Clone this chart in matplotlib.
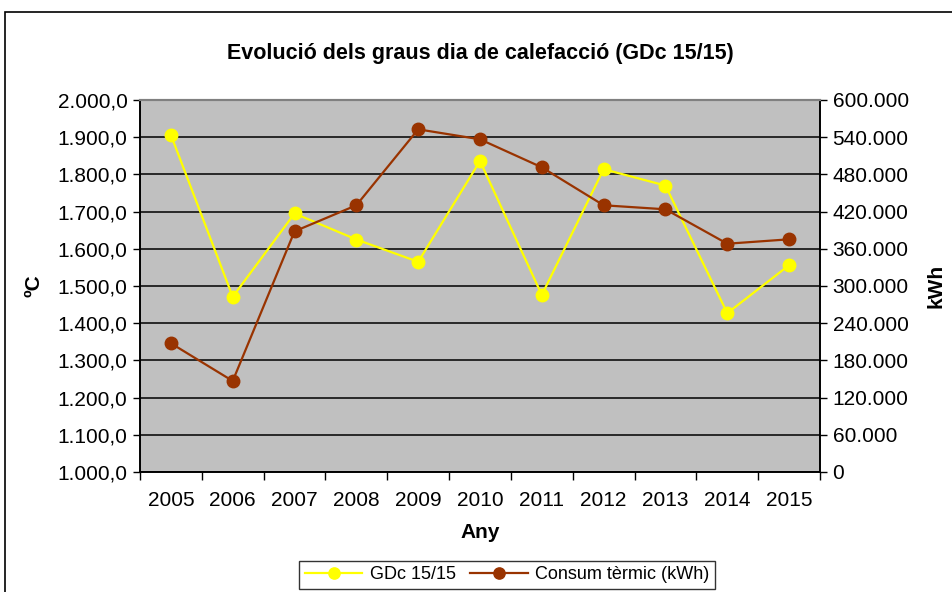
import matplotlib
matplotlib.use("Agg")
import matplotlib.pyplot as plt
from matplotlib.ticker import FuncFormatter, MultipleLocator
from matplotlib.patches import Rectangle

plt.rcParams['font.family'] = ['Liberation Sans', 'DejaVu Sans']

# data
years = ["2005", "2006", "2007", "2008", "2009", "2010",
         "2011", "2012", "2013", "2014", "2015"]
gdc = [1906, 1471, 1695, 1625, 1565, 1836, 1476, 1814, 1770, 1427, 1556]
consum = [207600, 146800, 388200, 430200, 552700, 536600,
          491400, 430200, 423700, 368200, 375300]


def fmt_left(v, pos):
    s = f"{v:,.1f}"
    return s.replace(",", "X").replace(".", ",").replace("X", ".")


def fmt_right(v, pos):
    return f"{v:,.0f}".replace(",", ".")


fig = plt.figure(figsize=(9.53, 5.92), dpi=100)
ax = fig.add_axes([140 / 953, 1 - 472 / 592, 680 / 953, 372 / 592])
ax2 = ax.twinx()

x = list(range(len(years)))
ax.set_facecolor("#C0C0C0")
ax.set_xlim(-0.5, len(years) - 0.5)
ax.set_ylim(1000, 2000)
ax.yaxis.set_major_locator(MultipleLocator(100))
ax.yaxis.set_major_formatter(FuncFormatter(fmt_left))
ax.grid(axis="y", color="black", linewidth=1.1)
ax.set_axisbelow(True)

ax2.set_ylim(0, 600000)
ax2.yaxis.set_major_locator(MultipleLocator(60000))
ax2.yaxis.set_major_formatter(FuncFormatter(fmt_right))

l1, = ax.plot(x, gdc, color="#FFFF00", lw=1.6, marker="o", ms=9,
              label="GDc 15/15", zorder=3)
l2, = ax2.plot(x, consum, color="#993300", lw=1.6, marker="o", ms=9,
               label="Consum tèrmic (kWh)", zorder=3)
ax2.set_zorder(ax.get_zorder() + 1)
ax2.patch.set_visible(False)

# category ticks between labels
ax.set_xticks(x)
ax.set_xticklabels(years)
ax.set_xticks([i - 0.5 for i in range(len(years) + 1)], minor=True)
ax.tick_params(axis="x", which="major", length=0, labelsize=15, pad=14)
ax.tick_params(axis="x", which="minor", length=6, width=1, direction="out")
ax.tick_params(axis="y", labelsize=15, length=5, width=1, direction="out", pad=4)
ax2.tick_params(axis="y", labelsize=15, length=5, width=1, direction="out", pad=4)

for a in (ax, ax2):
    a.spines["top"].set_color("#808080")
    a.spines["top"].set_linewidth(1.5)
    a.spines["left"].set_linewidth(1.2)
    a.spines["right"].set_linewidth(1.2)
    a.spines["bottom"].set_linewidth(1.2)

ax.set_ylabel("ºC", fontsize=15, fontweight="bold", labelpad=10)
ax2.set_ylabel("kWh", fontsize=15, fontweight="bold", labelpad=13)
ax.set_xlabel("Any", fontsize=15, fontweight="bold", labelpad=9)
fig.text(480 / 953, 1 - 53 / 592, "Evolució dels graus dia de calefacció (GDc 15/15)",
         ha="center", va="center", fontsize=15.5, fontweight="bold")

leg = fig.legend(handles=[l1, l2], loc="upper center", ncol=2,
                 bbox_to_anchor=(507 / 953, 1 - 561 / 592), fontsize=13,
                 frameon=True, fancybox=False, edgecolor="black",
                 borderaxespad=0, handlelength=3.2, handletextpad=0.4,
                 columnspacing=0.8, borderpad=0.3, markerscale=0.9)
leg.get_frame().set_linewidth(1.0)

# outer chart border
fig.patches.append(Rectangle((5 / 953, -0.1), 1.2, 1 - 12 / 592 + 0.1,
                             transform=fig.transFigure, fill=False,
                             edgecolor="black", linewidth=1.2))

fig.savefig("out.png", dpi=100)
